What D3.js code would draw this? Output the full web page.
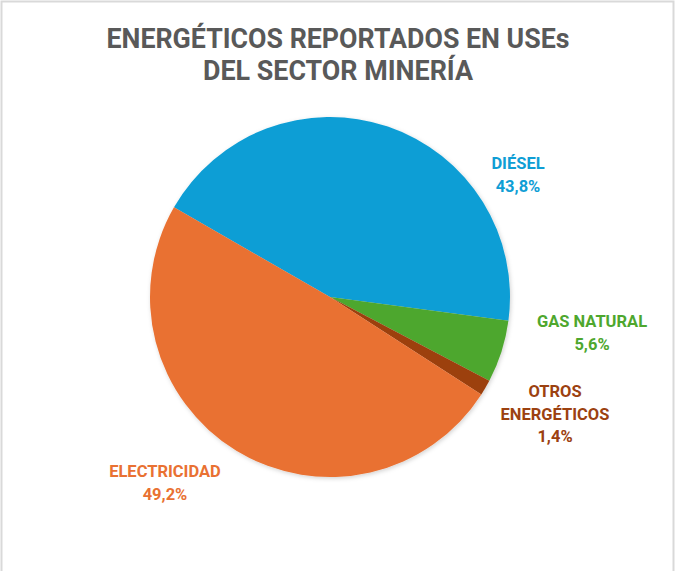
<!DOCTYPE html>
<html>
<head>
<meta charset="utf-8">
<script src="https://cdn.jsdelivr.net/npm/d3@7/dist/d3.min.js"></script>
<style>
  html, body { margin: 0; padding: 0; background: #fff; }
  svg { display: block; }
  text { font-family: Roboto, "Noto Sans", sans-serif; font-weight: 700; }
</style>
</head>
<body>
<svg id="chart" width="675" height="571"></svg>
<script>
// Energy sources reported by the mining sector (share of total, %)
const categories = ["DIÉSEL", "GAS NATURAL", "OTROS ENERGÉTICOS", "ELECTRICIDAD"];
const shares = [43.8, 5.6, 1.4, 49.2];
const valueLabels = ["43,8%", "5,6%", "1,4%", "49,2%"];
const labelLines = [["DIÉSEL"], ["GAS NATURAL"], ["OTROS", "ENERGÉTICOS"], ["ELECTRICIDAD"]];
const colors = ["#0F9ED5", "#4EA72E", "#9C4110", "#E97132"];
const titleLines = ["ENERGÉTICOS REPORTADOS EN USEs", "DEL SECTOR MINERÍA"];

const W = 675, H = 571;
const cx = 330, cy = 297, R = 180;
const startDeg = -60.1;

const svg = d3.select("#chart");

// chart frame
svg.append("rect")
  .attr("x", 1.5).attr("y", 1.5)
  .attr("width", W - 3).attr("height", H + 10)
  .attr("fill", "#fff")
  .attr("stroke", "#d9d9d9").attr("stroke-width", 2);

// title (narrow bold face: each line fitted to its width)
const titleWidths = [463, 270];
const title = svg.append("text")
  .attr("text-anchor", "middle")
  .attr("fill", "#595959")
  .style("font-size", "28px");
titleLines.forEach((t, i) => {
  title.append("tspan")
    .attr("x", 338).attr("y", 48 + i * 32)
    .attr("textLength", titleWidths[i])
    .attr("lengthAdjust", "spacingAndGlyphs")
    .text(t);
});

// soft shadow under the pie
const defs = svg.append("defs");
const f = defs.append("filter").attr("id", "shadow")
  .attr("x", "-10%").attr("y", "-10%").attr("width", "120%").attr("height", "120%");
f.append("feDropShadow").attr("dx", 1).attr("dy", 1.5).attr("stdDeviation", 2)
  .attr("flood-color", "#000").attr("flood-opacity", 0.18);

const pie = d3.pie()
  .sort(null)
  .value(d => d)
  .startAngle(startDeg * Math.PI / 180)
  .endAngle(startDeg * Math.PI / 180 + 2 * Math.PI);

const arc = d3.arc().innerRadius(0).outerRadius(R);

const g = svg.append("g")
  .attr("transform", `translate(${cx},${cy})`)
  .attr("filter", "url(#shadow)");

g.selectAll("path")
  .data(pie(shares))
  .join("path")
  .attr("d", arc)
  .attr("fill", (d, i) => colors[i]);

// data label anchors (center x, first baseline)
const labelAnchors = [[518, 169], [592, 327], [555, 397], [165, 477]];
const lineGap = 22.6;

labelAnchors.forEach(([x, y], i) => {
  const lines = labelLines[i].concat([valueLabels[i]]);
  const t = svg.append("text")
    .attr("text-anchor", "middle")
    .attr("fill", colors[i])
    .style("font-size", "16.5px");
  lines.forEach((s, j) => {
    t.append("tspan").attr("x", x).attr("y", y + j * lineGap).text(s);
  });
});
</script>
</body>
</html>
